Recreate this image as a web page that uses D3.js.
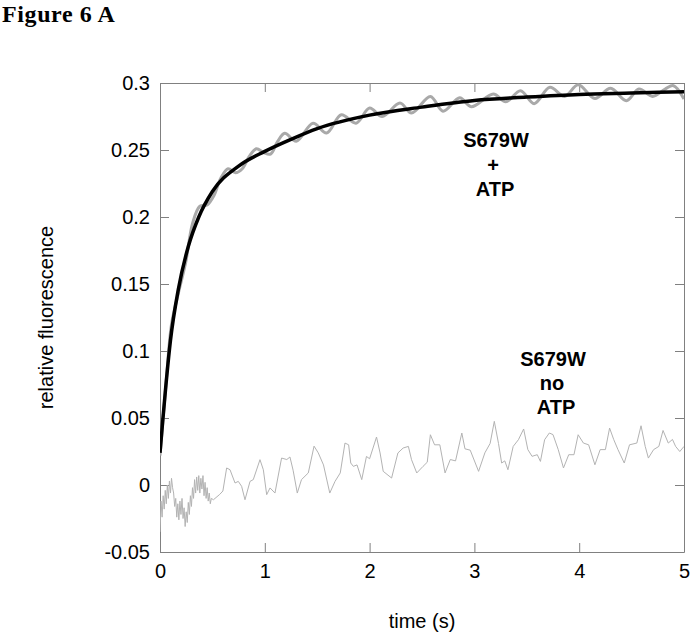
<!DOCTYPE html>
<html>
<head>
<meta charset="utf-8">
<script src="https://cdn.jsdelivr.net/npm/d3@7"></script>
<style>
  html, body { margin: 0; padding: 0; background: #fff; }
  svg { display: block; }
</style>
</head>
<body>
<svg id="chart" width="692" height="635"></svg>
<script>
// ---- data ----
const xTicks = [0, 1, 2, 3, 4, 5];
const yTicks = [-0.05, 0, 0.05, 0.1, 0.15, 0.2, 0.25, 0.3];

// fitted curve (black)
const fitTime = [0, 0.025, 0.05, 0.1, 0.175, 0.27, 0.37, 0.5, 0.75, 1.0, 1.25, 1.5, 2.0, 2.5, 3.0, 3.5, 4.0, 4.5, 5.0];
const fitValue = [0.024, 0.047, 0.069, 0.108, 0.146, 0.178, 0.200, 0.219, 0.238, 0.249, 0.258, 0.266, 0.276, 0.282, 0.287, 0.2895, 0.2915, 0.2925, 0.2935];

// S679W + ATP trace (thick grey)
const atpTime = [0, 0.03, 0.06, 0.11, 0.175, 0.245, 0.31, 0.38, 0.45, 0.515, 0.58, 0.65, 0.72, 0.785, 0.85, 0.92, 0.99, 1.055, 1.12, 1.19, 1.3, 1.46, 1.59, 1.73, 1.87, 2.0, 2.12, 2.29, 2.4, 2.58, 2.7, 2.86, 2.97, 3.18, 3.3, 3.44, 3.57, 3.72, 3.86, 3.99, 4.15, 4.3, 4.45, 4.57, 4.7, 4.82, 4.9, 5.0];
const atpValue = [0.022, 0.05, 0.078, 0.12, 0.143, 0.166, 0.195, 0.208, 0.209, 0.216, 0.229, 0.236, 0.233, 0.236, 0.245, 0.251, 0.248, 0.247, 0.256, 0.2625, 0.2565, 0.270, 0.2627, 0.2763, 0.270, 0.2813, 0.275, 0.285, 0.2776, 0.290, 0.279, 0.289, 0.2823, 0.2917, 0.286, 0.2943, 0.2846, 0.2968, 0.290, 0.2987, 0.2885, 0.296, 0.2868, 0.2955, 0.290, 0.2955, 0.298, 0.288];

// S679W no ATP trace (thin grey)
const noAtpTime = [0.00, 0.01, 0.02, 0.03, 0.04, 0.05, 0.06, 0.07, 0.08, 0.09, 0.10, 0.11, 0.12, 0.13, 0.14, 0.15, 0.16, 0.17, 0.18, 0.19, 0.20, 0.21, 0.22, 0.23, 0.24, 0.25, 0.26, 0.27, 0.28, 0.29, 0.30, 0.31, 0.32, 0.33, 0.34, 0.35, 0.36, 0.37, 0.38, 0.39, 0.40, 0.41, 0.42, 0.43, 0.44, 0.45, 0.46, 0.47, 0.48, 0.49, 0.51,
  0.57, 0.60, 0.636, 0.668, 0.716, 0.747, 0.779, 0.811, 0.859, 0.89, 0.954, 0.986, 1.018, 1.05, 1.097, 1.16, 1.21, 1.24, 1.27, 1.31, 1.35, 1.415, 1.47, 1.51, 1.56, 1.62, 1.67, 1.72, 1.765, 1.8, 1.82, 1.845, 1.88, 1.925, 1.97, 2.0, 2.066, 2.1, 2.13, 2.21, 2.27, 2.32, 2.37, 2.40, 2.45, 2.51, 2.55, 2.58, 2.62, 2.67, 2.72, 2.77, 2.82, 2.88, 2.91, 2.96, 3.04, 3.1, 3.15, 3.19, 3.23, 3.26, 3.29, 3.32, 3.37, 3.42, 3.47, 3.51, 3.55, 3.6, 3.63, 3.67, 3.715, 3.75, 3.8, 3.85, 3.9, 3.95, 3.99, 4.04, 4.09, 4.15, 4.2, 4.25, 4.29, 4.33, 4.37, 4.43, 4.48, 4.55, 4.59, 4.63, 4.66, 4.71, 4.76, 4.8, 4.85, 4.89, 4.92, 4.96, 5.0];
const noAtpValue = [-0.035, -0.012, -0.024, -0.008, -0.018, -0.004, -0.014, 0.000, -0.010, 0.003, -0.006, 0.005, -0.002, -0.006, -0.016, -0.010, -0.024, -0.014, -0.026, -0.012, -0.022, -0.010, -0.025, -0.017, -0.031, -0.020, -0.028, -0.013, -0.022, -0.008, -0.016, -0.002, -0.010, 0.004, -0.006, 0.006, -0.004, 0.007, -0.006, 0.005, -0.003, 0.007, -0.008, 0.002, -0.010, -0.002, -0.012, -0.006, -0.014, -0.010, -0.011,
  -0.007, -0.0045, 0.0127, 0.0114, 0.0015, 0.0027, -0.001, -0.011, 0.0027, 0.004, 0.0189, 0.0114, -0.0072, -0.0022, -0.006, 0.0201, 0.019, 0.0209, 0.011, -0.006, 0.004, 0.009, 0.029, 0.024, 0.015, -0.006, 0.0027, 0.009, 0.0313, 0.030, 0.0164, 0.0139, 0.015, 0.004, 0.0213, 0.0196, 0.0358, 0.0239, 0.0102, 0.0052, 0.0239, 0.0276, 0.0288, 0.0189, 0.009, 0.0139, 0.017, 0.0375, 0.030, 0.030, 0.009, 0.019, 0.018, 0.0388, 0.027, 0.026, 0.0102, 0.024, 0.031, 0.0475, 0.031, 0.0164, 0.018, 0.0114, 0.0288, 0.0338, 0.0418, 0.0264, 0.0214, 0.0226, 0.0176, 0.0338, 0.0388, 0.0376, 0.0264, 0.0127, 0.0226, 0.0226, 0.0375, 0.0313, 0.030, 0.0151, 0.0264, 0.0264, 0.0425, 0.0338, 0.0264, 0.0164, 0.030, 0.0313, 0.0442, 0.0288, 0.0201, 0.0264, 0.0288, 0.0407, 0.0313, 0.034, 0.0288, 0.025, 0.0288];

// ---- layout ----
const svg = d3.select("#chart");
const mLeft = 160, mRight = 684, mTop = 83, mBottom = 552;
const x = d3.scaleLinear().domain([0, 5]).range([mLeft, mRight]);
const y = d3.scaleLinear().domain([-0.05, 0.3]).range([mBottom, mTop]);
const frameColor = "#808080";
const fontSans = "Liberation Sans, Arial, Helvetica, sans-serif";

// title
svg.append("text").attr("x", 2).attr("y", 22)
  .attr("font-family", "Liberation Serif, Times New Roman, serif")
  .attr("font-weight", "bold").attr("font-size", 24).attr("letter-spacing", 0.6)
  .attr("fill", "#000").text("Figure 6 A");

const fmt = d => String(+d.toFixed(2));

function styleAxis(g, showLabels) {
  g.select(".domain").attr("stroke", frameColor).attr("stroke-width", 1);
  g.selectAll(".tick line").attr("stroke", frameColor).attr("stroke-width", 1);
  g.selectAll(".tick text").attr("font-family", fontSans).attr("font-size", 20).attr("fill", "#000");
  if (!showLabels) g.selectAll(".tick text").remove();
}

// bottom axis
svg.append("g").attr("transform", `translate(0,${mBottom})`)
  .call(d3.axisBottom(x).tickValues(xTicks).tickSizeInner(-9).tickSizeOuter(0).tickPadding(12).tickFormat(fmt))
  .call(g => styleAxis(g, true));
// top axis
svg.append("g").attr("transform", `translate(0,${mTop})`)
  .call(d3.axisTop(x).tickValues(xTicks).tickSizeInner(-9).tickSizeOuter(0))
  .call(g => styleAxis(g, false));
// left axis
svg.append("g").attr("transform", `translate(${mLeft},0)`)
  .call(d3.axisLeft(y).tickValues(yTicks).tickSizeInner(-9).tickSizeOuter(0).tickPadding(10).tickFormat(fmt))
  .call(g => styleAxis(g, true));
// right axis
svg.append("g").attr("transform", `translate(${mRight},0)`)
  .call(d3.axisRight(y).tickValues(yTicks).tickSizeInner(-9).tickSizeOuter(0))
  .call(g => styleAxis(g, false));

// axis titles
svg.append("text").attr("x", (mLeft + mRight) / 2).attr("y", 628)
  .attr("text-anchor", "middle").attr("font-family", fontSans).attr("font-size", 20)
  .text("time (s)");
svg.append("text").attr("transform", `translate(53,${(mTop + mBottom) / 2}) rotate(-90)`)
  .attr("text-anchor", "middle").attr("font-family", fontSans).attr("font-size", 20)
  .text("relative fluorescence");

// clip
svg.append("clipPath").attr("id", "plotclip").append("rect")
  .attr("x", mLeft).attr("y", mTop - 6).attr("width", mRight - mLeft).attr("height", mBottom - mTop + 6);

const plot = svg.append("g").attr("clip-path", "url(#plotclip)");

const noAtp = noAtpTime.map((t, i) => [t, noAtpValue[i]]);
const atp = atpTime.map((t, i) => [t, atpValue[i]]);
const fit = fitTime.map((t, i) => [t, fitValue[i]]);

plot.append("path").datum(noAtp)
  .attr("fill", "none").attr("stroke", "#b3b3b3").attr("stroke-width", 1)
  .attr("d", d3.line().x(d => x(d[0])).y(d => y(d[1])));

plot.append("path").datum(atp)
  .attr("fill", "none").attr("stroke", "#a9a9a9").attr("stroke-width", 3).attr("stroke-linejoin", "round")
  .attr("d", d3.line().curve(d3.curveCatmullRom).x(d => x(d[0])).y(d => y(d[1])));

plot.append("path").datum(fit)
  .attr("fill", "none").attr("stroke", "#000").attr("stroke-width", 3.5)
  .attr("d", d3.line().curve(d3.curveMonotoneX).x(d => x(d[0])).y(d => y(d[1])));

// annotations
function label(cx, lines) {
  lines.forEach(([txt, base, dx]) => {
    svg.append("text").attr("x", cx + (dx || 0)).attr("y", base)
      .attr("text-anchor", "middle").attr("font-family", fontSans)
      .attr("font-weight", "bold").attr("font-size", 20).attr("fill", "#000")
      .text(txt);
  });
}
label(496, [["S679W", 147], ["+", 171.5, -3], ["ATP", 196, -1]]);
label(553, [["S679W", 366], ["no", 390, -1], ["ATP", 413.5, 3]]);
</script>
</body>
</html>
